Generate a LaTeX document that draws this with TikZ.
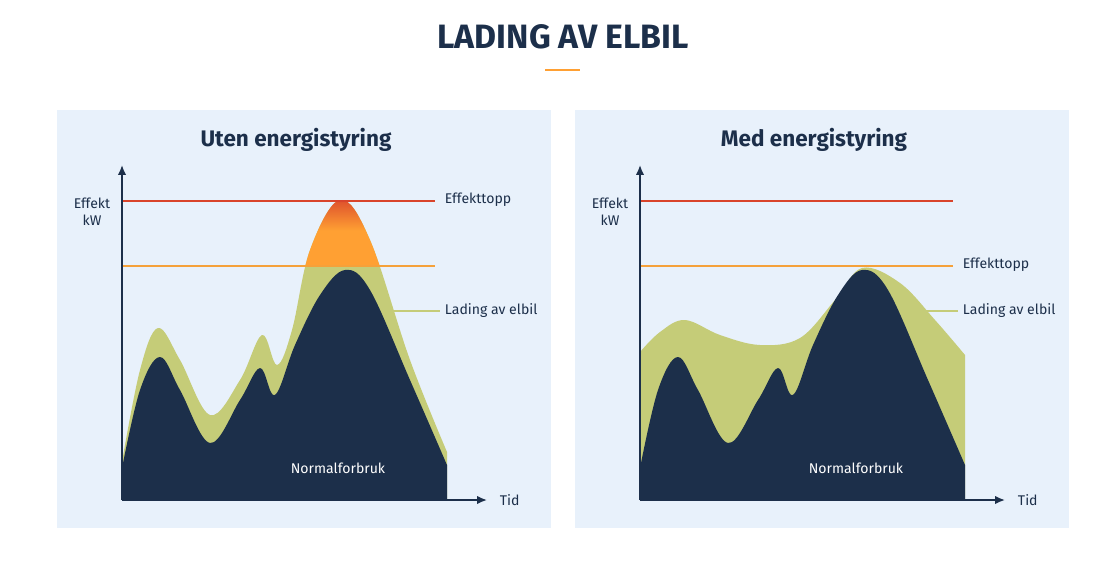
\documentclass[tikz,border=0pt]{standalone}
\usepackage{fontspec}
\setmainfont{Fira Sans}
\usetikzlibrary{arrows.meta}
\definecolor{navy}{HTML}{1C2F4A}
\definecolor{grn}{HTML}{C5CC78}
\definecolor{org}{HTML}{FFA033}
\definecolor{redl}{HTML}{D9442B}
\definecolor{orgl}{HTML}{F5A13A}
\definecolor{pane}{HTML}{E8F1FB}
\tikzset{ax/.style={navy,line width=1.2pt,-{Latex[length=7pt,width=6pt]}},
 lbl/.style={text=navy,font=\fontsize{10}{12}\selectfont,anchor=west},
 ttl/.style={text=navy,font=\fontsize{16}{19}\selectfont\bfseries}}
\def\GreenL{(122,500) -- plot[smooth,tension=0.6] coordinates {(122,462) (140,370) (158,328) (180,360) (210,415) (240,380) (262,335) (277,365) (292,330) (310,250) (340,200) (370,240) (410,360) (447,452)} -- (447,500) -- cycle}
\begin{document}
\begin{tikzpicture}[x=0.025cm,y=-0.025cm]
\useasboundingbox (0,0) rectangle (1108,561);
\fill[white] (0,0) rectangle (1108,561);
\node[text=navy,font=\fontsize{24}{28}\selectfont\bfseries] (t) at (563,37) {LADING AV ELBIL};
\draw[org,line width=1.5pt] (545,70) -- (580,70);
\fill[pane] (57,110) rectangle (551,528);
\fill[pane] (575,110) rectangle (1069,528);
\node[ttl] (t1) at (296,140) {Uten energistyring};
\node[ttl] (t2) at (814,140) {Med energistyring};
% LEFT
\fill[grn] \GreenL;
\begin{scope}
\clip \GreenL;
\shade[top color=redl,bottom color=org,middle color=org] (122,195) rectangle (447,266);
\end{scope}
\fill[navy] (122,500) -- plot[smooth,tension=0.6] coordinates {(122,468) (140,390) (160,357) (180,390) (210,443) (240,400) (260,368) (275,395) (295,345) (320,295) (345,270) (370,290) (410,380) (447,465)} -- (447,500) -- cycle;
\draw[redl,line width=1.2pt] (122,201) -- (435,201);
\draw[orgl,line width=1.2pt] (122,266) -- (435,266);
\coordinate (g1) at (393,311);
\node[lbl] (e1) at (440,200) {Effekttopp};
\node[lbl] (l1) at (440,311) {Lading av elbil};
\draw[grn,line width=1.2pt] (g1) -- (l1.west);
\node[text=navy,font=\fontsize{10}{12}\selectfont,align=center] (k1) at (92,212) {Effekt\\kW};
\node[text=white,font=\fontsize{10}{12}\selectfont] (n1) at (338,468) {Normalforbruk};
\coordinate (o1) at (122,500);
\coordinate (y1) at (122,165);
\coordinate (x1) at (487,500);
\draw[ax] (o1) -- (y1);
\draw[ax] (o1) -- (x1);
\node[lbl] (tid1) at (495,500) {Tid};
% RIGHT
\fill[grn] (640,500) -- plot[smooth,tension=0.6] coordinates {(640,352) (660,332) (685,320) (720,335) (760,345) (800,338) (835,300) (862,268) (900,283) (935,320) (965,355)} -- (965,500) -- cycle;
\fill[navy] (640,500) -- plot[smooth,tension=0.6] coordinates {(640,468) (658,390) (678,357) (698,390) (728,443) (758,400) (778,368) (793,395) (813,345) (838,295) (862,270) (888,290) (928,380) (965,465)} -- (965,500) -- cycle;
\draw[redl,line width=1.2pt] (640,201) -- (953,201);
\draw[orgl,line width=1.2pt] (640,266) -- (953,266);
\coordinate (g2) at (922,311);
\node[lbl] (e2) at (958,265) {Effekttopp};
\node[lbl] (l2) at (958,311) {Lading av elbil};
\draw[grn,line width=1.2pt] (g2) -- (l2.west);
\node[text=navy,font=\fontsize{10}{12}\selectfont,align=center] (k2) at (610,212) {Effekt\\kW};
\node[text=white,font=\fontsize{10}{12}\selectfont] (n2) at (856,468) {Normalforbruk};
\coordinate (o2) at (640,500);
\coordinate (y2) at (640,165);
\coordinate (x2) at (1005,500);
\draw[ax] (o2) -- (y2);
\draw[ax] (o2) -- (x2);
\node[lbl] (tid2) at (1013,500) {Tid};
\end{tikzpicture}
\end{document}
